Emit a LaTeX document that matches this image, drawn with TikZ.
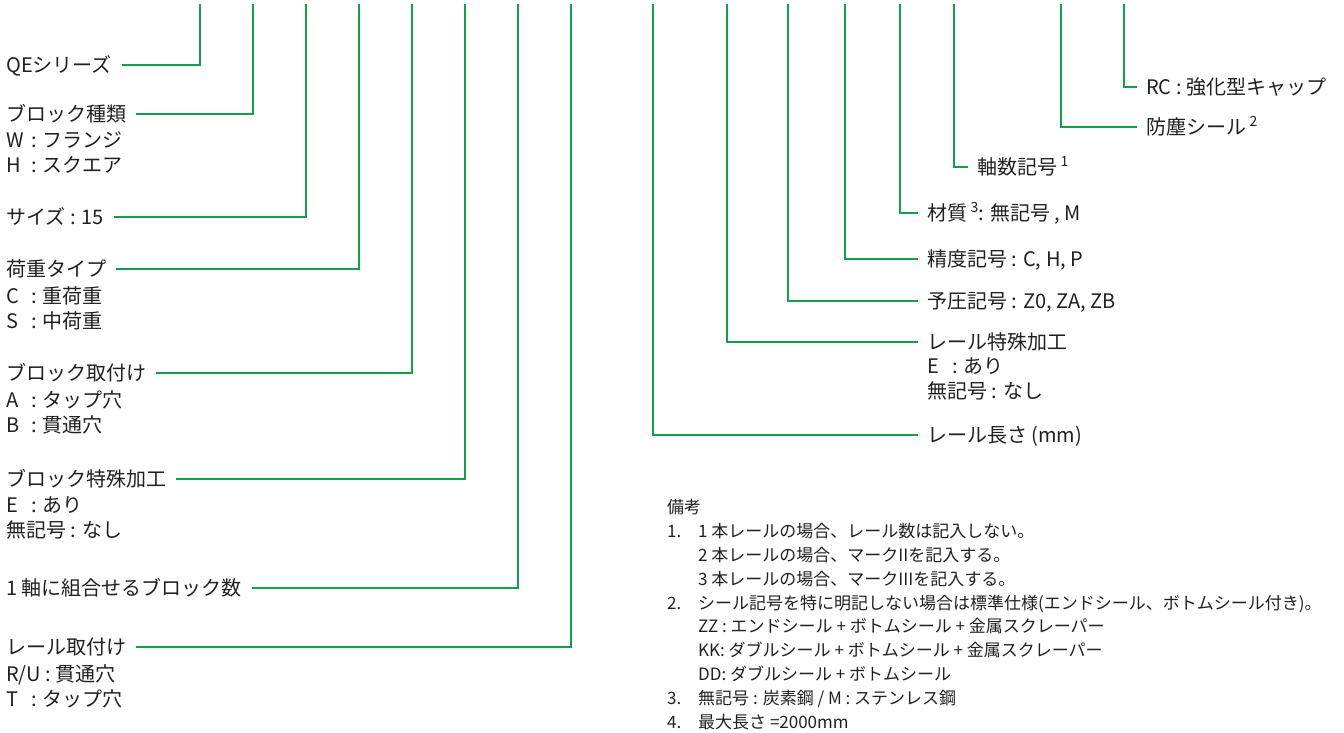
\documentclass[tikz,border=0pt]{standalone}
\usepackage{fontspec}
\setmainfont{Noto Sans CJK JP}
\usetikzlibrary{positioning}

\definecolor{leadgreen}{RGB}{18,160,74}
\definecolor{inkgray}{RGB}{35,31,32}
\newcommand{\keyw}[1]{\makebox[1.25em][l]{#1}}
\newcommand{\nitem}[2]{\makebox[31pt][l]{#1}#2}
\newcommand{\ncont}[1]{\hspace*{31pt}#1}

\begin{document}
\begin{tikzpicture}[x=1pt, y=-1pt,
    title/.style={inner sep=0pt, anchor=west, text=inkgray,
                  font=\fontsize{20}{25}\selectfont, text height=16pt, text depth=1pt},
    opts/.style={inner sep=0pt, align=left, text=inkgray,
                 font=\fontsize{20}{24.5}\selectfont},
    note/.style={inner sep=0pt, anchor=north west, align=left, text=inkgray,
                 font=\fontsize{17}{23.9}\selectfont},
    lead/.style={draw=leadgreen, line width=1.6pt}
  ]
  \useasboundingbox (0,0) rectangle (1344,733);

  % upper ends of the leader lines
  \foreach \n/\x in {1/200, 2/253, 3/306, 4/359, 5/412, 6/465, 7/518, 8/571}
    \coordinate (a\n) at (\x,4);
  \foreach \n/\x in {1/653, 2/727, 3/788, 4/845, 5/900, 6/954, 7/1061, 8/1124}
    \coordinate (b\n) at (\x,4);

  % block side
  \node[title] (series) at (6,65) {QEシリーズ};
  \node[title] (bltype) at (6,114) {ブロック種類};
  \node[opts, below=9pt of bltype.south west, anchor=north west] (bltypeopt)
    {\keyw{W}: フランジ\\\keyw{H}: スクエア};
  \node[title] (size) at (6,217) {サイズ : 15};
  \node[title] (load) at (6,269) {荷重タイプ};
  \node[opts, below=9pt of load.south west, anchor=north west] (loadopt)
    {\keyw{C}: 重荷重\\\keyw{S}: 中荷重};
  \node[title] (blmount) at (6,373) {ブロック取付け};
  \node[opts, below=9pt of blmount.south west, anchor=north west] (blmountopt)
    {\keyw{A}: タップ穴\\\keyw{B}: 貫通穴};
  \node[title] (blspec) at (6,479) {ブロック特殊加工};
  \node[opts, below=9pt of blspec.south west, anchor=north west] (blspecopt)
    {\keyw{E}: あり\\無記号 : なし};
  \node[title] (blnum) at (6,588) {1 軸に組合せるブロック数};
  \node[title] (rlmount) at (6,647) {レール取付け};
  \node[opts, below=9pt of rlmount.south west, anchor=north west] (rlmountopt)
    {R/U : 貫通穴\\\keyw{T}: タップ穴};

  % rail side
  \node[title] (cap) at (1146,87) {RC : 強化型キャップ};
  \node[title] (seal) at (1146,127) {防塵シール\,\textsuperscript{2}};
  \node[title] (axis) at (977,167) {軸数記号\,\textsuperscript{1}};
  \node[title] (mat) at (927,213) {材質\,\textsuperscript{3}: 無記号 , M};
  \node[title] (prec) at (927,259) {精度記号 : C, H, P};
  \node[title] (preload) at (927,301) {予圧記号 : Z0, ZA, ZB};
  \node[title] (rlspec) at (927,342) {レール特殊加工};
  \node[opts, below=7pt of rlspec.south west, anchor=north west] (rlspecopt)
    {\keyw{E}: あり\\無記号 : なし};
  \node[title] (rllen) at (927,435) {レール長さ (mm)};

  % remarks
  \node[note] (remarks) at (667,499) {備考\\
    \nitem{1.}{1 本レールの場合、レール数は記入しない。}\\
    \ncont{2 本レールの場合、マークIIを記入する。}\\
    \ncont{3 本レールの場合、マークIIIを記入する。}\\
    \nitem{2.}{シール記号を特に明記しない場合は標準仕様(エンドシール、ボトムシール付き)。}\\
    \ncont{ZZ : エンドシール + ボトムシール + 金属スクレーパー}\\
    \ncont{KK: ダブルシール + ボトムシール + 金属スクレーパー}\\
    \ncont{DD: ダブルシール + ボトムシール}\\
    \nitem{3.}{無記号 : 炭素鋼 / M : ステンレス鋼}\\
    \nitem{4.}{最大長さ =2000mm}};

  % leaders
  \foreach \t/\n in {a1/series, a2/bltype, a3/size, a4/load,
                     a5/blmount, a6/blspec, a7/blnum, a8/rlmount}
    \draw[lead] (\t) |- ([xshift=10pt]\n.east);
  \foreach \t/\n in {b1/rllen, b2/rlspec, b3/preload, b4/prec,
                     b5/mat, b6/axis, b7/seal, b8/cap}
    \draw[lead] (\t) |- ([xshift=-9pt]\n.west);
\end{tikzpicture}
\end{document}
